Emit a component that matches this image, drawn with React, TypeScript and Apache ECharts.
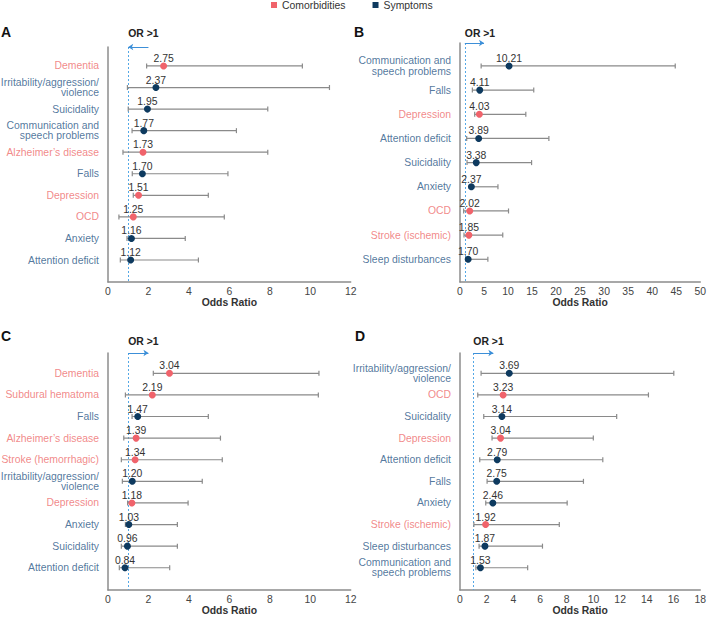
import React, { useEffect, useRef } from "react";
import * as echarts from "echarts";

// ---------- Data ----------
const namesA = ["Dementia", "Irritability/aggression/\nviolence", "Suicidality", "Communication and\nspeech problems", "Alzheimer’s disease", "Falls", "Depression", "OCD", "Anxiety", "Attention deficit"];
const typesA = ["c", "s", "s", "s", "c", "s", "c", "c", "s", "s"];
const orA = [2.75, 2.37, 1.95, 1.77, 1.73, 1.70, 1.51, 1.25, 1.16, 1.12];
const lowA = [1.91, 0.96, 1.0, 1.19, 0.74, 1.2, 1.25, 0.54, 0.94, 0.61];
const highA = [9.61, 10.95, 7.9, 6.35, 7.9, 5.93, 4.96, 5.75, 3.82, 4.47];

const namesB = ["Communication and\nspeech problems", "Falls", "Depression", "Attention deficit", "Suicidality", "Anxiety", "OCD", "Stroke (ischemic)", "Sleep disturbances"];
const typesB = ["s", "s", "c", "s", "s", "s", "c", "c", "s"];
const orB = [10.21, 4.11, 4.03, 3.89, 3.38, 2.37, 2.02, 1.85, 1.70];
const lowB = [4.4, 2.57, 3.06, 1.39, 1.46, 1.94, 0.76, 0.83, 1.18];
const highB = [44.8, 15.35, 13.7, 18.5, 14.9, 7.9, 10.1, 8.9, 5.8];

const namesC = ["Dementia", "Subdural hematoma", "Falls", "Alzheimer’s disease", "Stroke (hemorrhagic)", "Irritability/aggression/\nviolence", "Depression", "Anxiety", "Suicidality", "Attention deficit"];
const typesC = ["c", "c", "s", "c", "c", "s", "c", "s", "s", "s"];
const orC = [3.04, 2.19, 1.47, 1.39, 1.34, 1.20, 1.18, 1.03, 0.96, 0.84];
const lowC = [2.24, 0.86, 1.19, 0.78, 0.66, 0.71, 0.97, 0.86, 0.66, 0.56];
const highC = [10.43, 10.4, 4.96, 5.56, 5.65, 4.66, 3.96, 3.43, 3.43, 3.05];

const namesD = ["Irritability/aggression/\nviolence", "OCD", "Suicidality", "Depression", "Attention deficit", "Falls", "Anxiety", "Stroke (ischemic)", "Sleep disturbances", "Communication and\nspeech problems"];
const typesD = ["s", "c", "s", "c", "s", "s", "s", "c", "s", "s"];
const orD = [3.69, 3.23, 3.14, 3.04, 2.79, 2.75, 2.46, 1.92, 1.87, 1.53];
const lowD = [1.58, 1.33, 1.78, 2.4, 1.48, 2.03, 1.93, 1.04, 1.43, 1.19];
const highD = [16.02, 14.12, 11.74, 9.99, 10.7, 9.25, 8.03, 7.44, 6.18, 5.07];

const panelLetters = ["A", "B", "C", "D"];
const xMaxes = [12, 50, 12, 18];
const xIntervals = [2, 5, 2, 2];
const arrowEnds = [2, 5, 2, 2.5];
const refLine = [1];
const legendNames = ["Comorbidities", "Symptoms"];

// ---------- Styles ----------
const COMO = "#F0636B";
const SYM = "#0E3A5F";
const COMO_TXT = "#EE6B6B";
const SYM_TXT = "#275585";
const AXIS = "#8c8c8c";
const REF = "#55A8E6";
const FONT = "'Liberation Sans', Arial, sans-serif";
const FS = 10.4;

const layout = [
  { grid: { left: 108, top: 47, width: 242.7, height: 235 }, yMin: -0.88, yMax: 10.02, arrowLeft: true, orDist: 9, title: { left: 1, top: 25 } },
  { grid: { left: 460, top: 43, width: 241, height: 239 }, yMin: -0.95, yMax: 8.94, arrowLeft: false, orDist: 5, title: { left: 354, top: 25 } },
  { grid: { left: 108, top: 353, width: 242.7, height: 237 }, yMin: -0.94, yMax: 10.03, arrowLeft: false, orDist: 7, title: { left: 1, top: 329 } },
  { grid: { left: 460, top: 353, width: 242.7, height: 237 }, yMin: -0.94, yMax: 10.03, arrowLeft: false, orDist: 7, title: { left: 355, top: 329 } },
];

const panels = [
  { names: namesA, types: typesA, or: orA, low: lowA, high: highA },
  { names: namesB, types: typesB, or: orB, low: lowB, high: highB },
  { names: namesC, types: typesC, or: orC, low: lowC, high: highC },
  { names: namesD, types: typesD, or: orD, low: lowD, high: highD },
];

function buildOption() {
  const grids: any[] = [];
  const xAxes: any[] = [];
  const yAxes: any[] = [];
  const series: any[] = [];
  const titles: any[] = [];

  panels.forEach((p, i) => {
    const L = layout[i];
    grids.push(L.grid);
    titles.push({
      text: panelLetters[i],
      left: L.title.left,
      top: L.title.top,
      padding: 0,
      textStyle: { fontSize: 14, fontWeight: "bold", color: "#111", fontFamily: FONT },
    });
    xAxes.push({
      gridIndex: i,
      type: "value",
      min: 0,
      max: xMaxes[i],
      interval: xIntervals[i],
      axisLine: { onZero: false, lineStyle: { color: AXIS, width: 1.5 } },
      axisTick: { show: false },
      splitLine: { show: false },
      axisLabel: { fontSize: FS, color: "#444", margin: 4, fontFamily: FONT },
      name: "Odds Ratio",
      nameLocation: "middle",
      nameGap: 15,
      nameTextStyle: { fontWeight: "bold", fontSize: FS, color: "#333", fontFamily: FONT },
    });
    yAxes.push({
      gridIndex: i,
      type: "value",
      inverse: true,
      min: L.yMin,
      max: L.yMax,
      axisLine: { show: true, onZero: false, lineStyle: { color: AXIS, width: 1.5 } },
      axisTick: { show: false },
      axisLabel: { show: false },
      splitLine: { show: false },
    });

    // reference line OR = 1 (dashed, full height) drawn with a custom series
    series.push({
      type: "custom",
      xAxisIndex: i,
      yAxisIndex: i,
      silent: true,
      data: refLine.map((v) => [v, L.yMin, L.yMax]),
      encode: { x: 0, y: [1, 2] },
      renderItem: (params: any, api: any) => {
        const a = api.coord([api.value(0), api.value(1)]);
        const b = api.coord([api.value(0), api.value(2)]);
        const x = Math.round(a[0]) + 0.5;
        return {
          type: "line",
          shape: { x1: x, y1: a[1], x2: x, y2: b[1] },
          style: { stroke: REF, lineWidth: 1, lineDash: [2, 2] },
        };
      },
      z: 1,
    });

    // error bars
    series.push({
      type: "custom",
      xAxisIndex: i,
      yAxisIndex: i,
      silent: true,
      data: p.low.map((l, j) => [l, p.high[j], j]),
      encode: { x: [0, 1], y: 2 },
      renderItem: (params: any, api: any) => {
        const y = api.value(2);
        const p1 = api.coord([api.value(0), y]);
        const p2 = api.coord([api.value(1), y]);
        const h = 2.5;
        const style = { stroke: "#8a8a8a", lineWidth: 1.2 };
        return {
          type: "group",
          children: [
            { type: "line", shape: { x1: p1[0], y1: p1[1], x2: p2[0], y2: p2[1] }, style },
            { type: "line", shape: { x1: p1[0], y1: p1[1] - h, x2: p1[0], y2: p1[1] + h }, style },
            { type: "line", shape: { x1: p2[0], y1: p2[1] - h, x2: p2[0], y2: p2[1] + h }, style },
          ],
        };
      },
      z: 2,
    });

    // dots
    [["c", legendNames[0], COMO], ["s", legendNames[1], SYM]].forEach(([t, nm, col]) => {
      const data: any[] = [];
      p.or.forEach((v, j) => {
        if (p.types[j] === t) data.push([v, j]);
      });
      series.push({
        type: "scatter",
        name: nm,
        xAxisIndex: i,
        yAxisIndex: i,
        symbol: "circle",
        symbolSize: 7,
        itemStyle: { color: col, opacity: 1 },
        silent: true,
        data,
        label: {
          show: true,
          position: "inside",
          offset: [0, -7.5],
          formatter: (pr: any) => pr.value[0].toFixed(2),
          color: "#333",
          fontSize: FS,
          fontFamily: FONT,
        },
        z: 3,
      });
    });

    // category labels + arrow
    const arrowData = L.arrowLeft
      ? [
          { coord: [1, L.yMin], symbol: "arrow", symbolSize: 5 },
          { coord: [arrowEnds[i], L.yMin], symbol: "none" },
        ]
      : [
          { coord: [1, L.yMin], symbol: "none" },
          { coord: [arrowEnds[i], L.yMin], symbol: "arrow", symbolSize: 5 },
        ];
    series.push({
      type: "scatter",
      xAxisIndex: i,
      yAxisIndex: i,
      symbolSize: 0,
      silent: true,
      data: p.names.map((n, j) => ({
        value: [0, j],
        label: { color: p.types[j] === "c" ? COMO_TXT : SYM_TXT },
      })),
      label: {
        show: true,
        position: "left",
        distance: 9,
        align: "right",
        formatter: (pr: any) => p.names[pr.dataIndex],
        fontSize: FS,
        lineHeight: 10.5,
        fontFamily: FONT,
      },
      markLine: {
        silent: true,
        animation: false,
        symbol: ["none", "none"],
        lineStyle: { color: "#3C8FD8", type: "solid", width: 1 },
        data: [
          [
            {
              ...arrowData[0],
              label: {
                show: true,
                formatter: "OR >1",
                position: "insideStartTop",
                distance: [0, L.orDist],
                color: "#222",
                fontWeight: "bold",
                fontSize: FS,
                fontFamily: FONT,
              },
            },
            arrowData[1],
          ],
        ],
      },
      z: 4,
    });
  });

  return {
    animation: false,
    textStyle: { fontFamily: FONT },
    title: titles,
    legend: {
      data: legendNames.map((n) => ({ name: n, icon: "rect" })),
      left: 271,
      top: 0,
      padding: 0,
      icon: "rect",
      itemWidth: 6,
      itemHeight: 6,
      itemGap: 27,
      textStyle: { fontSize: FS, color: "#333", fontFamily: FONT },
    },
    grid: grids,
    xAxis: xAxes,
    yAxis: yAxes,
    series,
  };
}

export default function App() {
  const ref = useRef<HTMLDivElement>(null);
  useEffect(() => {
    document.body.style.margin = "0";
    if (!ref.current) return;
    const chart = echarts.init(ref.current, null, { renderer: "svg" });
    chart.setOption(buildOption() as any);
    return () => chart.dispose();
  }, []);
  return <div ref={ref} style={{ width: 709, height: 618, background: "#fff" }} />;
}
